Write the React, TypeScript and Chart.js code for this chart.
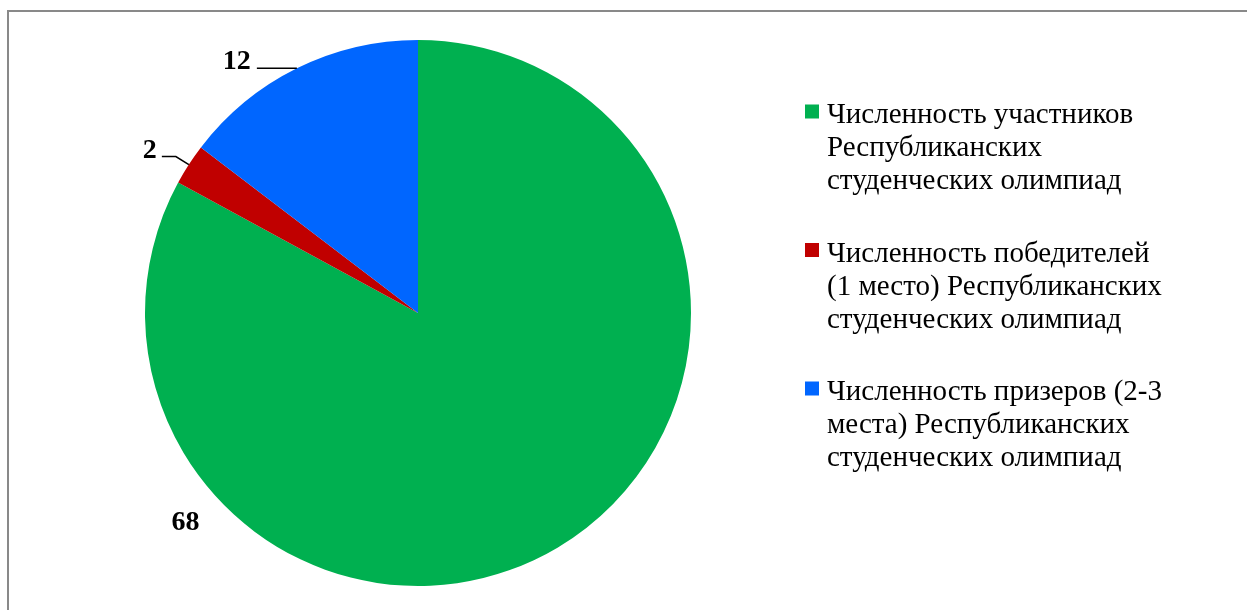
import React, { useEffect, useRef } from "react";
import { Chart, registerables } from "chart.js";

Chart.register(...registerables);

const categories: string[][] = [
  ["Численность участников", "Республиканских", "студенческих олимпиад"],
  ["Численность победителей", "(1 место) Республиканских", "студенческих олимпиад"],
  ["Численность призеров (2-3", "места) Республиканских", "студенческих олимпиад"],
];
const values: number[] = [68, 2, 12];
const colors: string[] = ["#00B050", "#C00000", "#0066FF"];
const valueLabels: string[] = values.map((v) => String(v));

const FONT = '"Liberation Serif", "Times New Roman", serif';

const labelPlugin = {
  id: "customLabels",
  afterDraw(chart: any) {
    const ctx = chart.ctx as CanvasRenderingContext2D;
    const meta = chart.getDatasetMeta(0);
    ctx.save();
    ctx.fillStyle = "#000";
    ctx.strokeStyle = "#000";
    ctx.lineWidth = 1.5;
    ctx.font = `bold 28px ${FONT}`;
    meta.data.forEach((arc: any, i: number) => {
      const p = arc.getProps(["x", "y", "outerRadius", "startAngle", "endAngle"], true);
      const r = p.outerRadius;
      const mid = (p.startAngle + p.endAngle) / 2;
      const ex = p.x + r * Math.cos(mid);
      const ey = p.y + r * Math.sin(mid);
      const text = valueLabels[i];
      if (i === 0) {
        // best-fit placement outside the large slice (lower-left)
        const a = (138 * Math.PI) / 180;
        const d = r * 1.146;
        ctx.textAlign = "center";
        ctx.textBaseline = "middle";
        ctx.fillText(text, p.x + d * Math.cos(a), p.y + d * Math.sin(a));
      } else if (i === 1) {
        ctx.beginPath();
        ctx.moveTo(ex, ey);
        ctx.lineTo(ex - 13, ey - 8);
        ctx.lineTo(ex - 27, ey - 8);
        ctx.stroke();
        ctx.textAlign = "right";
        ctx.textBaseline = "alphabetic";
        ctx.fillText(text, ex - 32, ey - 7);
      } else {
        ctx.beginPath();
        ctx.moveTo(ex, ey);
        ctx.lineTo(ex - 40, ey);
        ctx.stroke();
        ctx.textAlign = "right";
        ctx.textBaseline = "alphabetic";
        ctx.fillText(text, ex - 46, ey + 1);
      }
    });

    // legend
    const lx = 827;
    const firstBase = 123;
    const itemGap = 138.5;
    const lineGap = 33;
    ctx.font = `29px ${FONT}`;
    ctx.textAlign = "left";
    ctx.textBaseline = "alphabetic";
    categories.forEach((lines, i) => {
      const base = firstBase + i * itemGap;
      ctx.fillStyle = colors[i];
      ctx.fillRect(lx - 22, base - 18.5, 14, 14);
      ctx.fillStyle = "#000";
      lines.forEach((ln, j) => ctx.fillText(ln, lx, base + j * lineGap));
    });
    ctx.restore();
  },
};

export default function App() {
  const ref = useRef<HTMLCanvasElement | null>(null);
  useEffect(() => {
    if (!ref.current) return;
    const chart = new Chart(ref.current, {
      type: "pie",
      data: {
        labels: categories,
        datasets: [{ data: values, backgroundColor: colors, borderWidth: 0 }],
      },
      options: {
        animation: false,
        responsive: false,
        layout: { padding: { left: 145, right: 556, top: 40, bottom: 24 } },
        plugins: { legend: { display: false }, tooltip: { enabled: false } },
      },
      plugins: [labelPlugin],
    });
    return () => chart.destroy();
  }, []);
  return (
    <div style={{ position: "fixed", left: 0, top: 0, width: 1247, height: 610, overflow: "hidden", background: "#fff" }}>
      <div style={{ position: "absolute", left: 7, top: 10, width: 1400, height: 800, border: "2px solid #898989" }} />
      <canvas ref={ref} width={1247} height={610} style={{ position: "absolute", left: 0, top: 0 }} />
    </div>
  );
}
